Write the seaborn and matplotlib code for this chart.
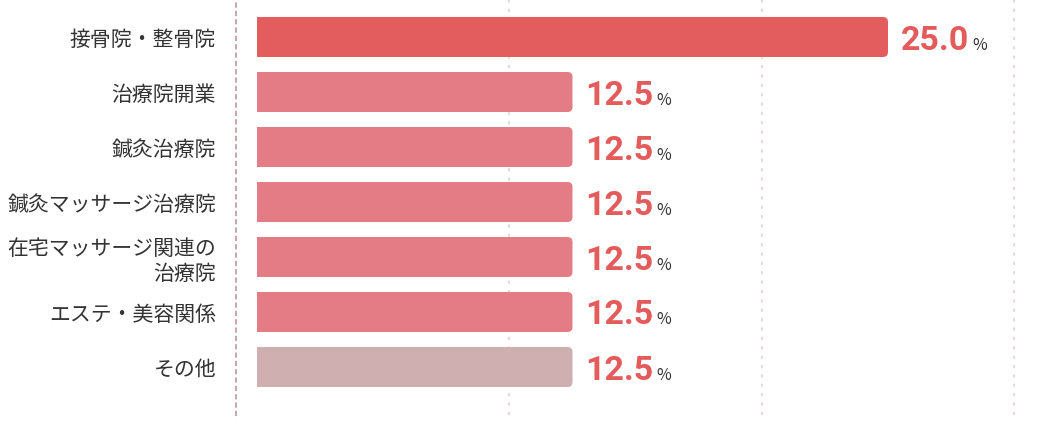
import matplotlib
matplotlib.use("Agg")
import matplotlib.pyplot as plt
import matplotlib.transforms as mtransforms
from matplotlib.patches import FancyBboxPatch, Rectangle
import seaborn as sns
import pandas as pd

categories = ["接骨院・整骨院", "治療院開業", "鍼灸治療院", "鍼灸マッサージ治療院",
              "在宅マッサージ関連の\n治療院", "エステ・美容関係", "その他"]
values = [25.0, 12.5, 12.5, 12.5, 12.5, 12.5, 12.5]
bar_colors = ["#e35d5e", "#e47c86", "#e47c86", "#e47c86", "#e47c86", "#e47c86", "#cfafb0"]
grid_ticks = [10, 20, 30]

sns.set_theme(style="white")
plt.rcParams['font.family'] = ['Noto Sans CJK JP', 'DejaVu Sans']

W, H = 1060, 424
fig = plt.figure(figsize=(W / 100, H / 100), dpi=100)
ax_left, ax_bottom_px, ax_h = 236, 9, 415
ax = fig.add_axes([ax_left / W, ax_bottom_px / H, (W - ax_left) / W, ax_h / H])

df = pd.DataFrame({"category": categories, "value": values})
sns.barplot(data=df, y="category", x="value", hue="category", palette=bar_colors,
            legend=False, width=40 / 55, ax=ax, saturation=1, orient="h")

k = 631 / 25.0  # px per percent
xmin = -21 / k
xmax = xmin + (W - ax_left) / k
ax.set_xlim(xmin, xmax)
ymin = -37 / 55
ymax = ymin + ax_h / 55
ax.set_ylim(ymax, ymin)

# rounded right corners
r_px = 5
rx = r_px / k
ry = r_px / 55
asp = ry / rx
for p in list(ax.patches):
    x0, y0, w, h = p.get_x(), p.get_y(), p.get_width(), p.get_height()
    fc = p.get_facecolor()
    p.remove()
    ax.add_patch(FancyBboxPatch((x0, y0), w, h,
                                boxstyle=f"round,pad=0,rounding_size={rx}",
                                mutation_aspect=asp, fc=fc, ec="none", zorder=2))
    ax.add_patch(Rectangle((x0, y0), 2 * rx, h, fc=fc, ec="none", zorder=2))

ax.set_xticks(grid_ticks)
ax.xaxis.grid(True, linestyle=(0, (1.5, 3)), color="#e3dadd", linewidth=1.5)
ax.yaxis.grid(False)
ax.set_axisbelow(True)
ax.tick_params(axis="x", length=0, labelbottom=False)
ax.tick_params(axis="y", length=0, pad=14.4, labelsize=15, labelcolor="#333333")
ax.set_xlabel("")
ax.set_ylabel("")
for s in ["top", "right", "bottom"]:
    ax.spines[s].set_visible(False)
ax.spines["left"].set_color("#c8a9ab")
ax.spines["left"].set_linewidth(1.5)
ax.spines["left"].set_linestyle((0, (1.5, 2.5)))

texts = []
for i, v in enumerate(values):
    t = ax.annotate(f"{v:.1f}", xy=(v, i), xytext=(13 * 0.72, -12.5 * 0.72),
                    textcoords="offset points", ha="left", va="baseline",
                    fontsize=24.5, color="#e35b5b", fontfamily="Roboto", fontweight="bold")
    texts.append(t)

fig.canvas.draw()
renderer = fig.canvas.get_renderer()
for i, (v, t) in enumerate(zip(values, texts)):
    bb = t.get_window_extent(renderer)
    ybase = ax.transData.transform((v, i))[1] - 12.5
    fig.text(bb.x1 + 3, ybase, "%", transform=mtransforms.IdentityTransform(),
             ha="left", va="baseline", fontsize=11.5, color="#333333",
             fontfamily="Noto Sans CJK JP")

fig.savefig("out.png", dpi=100)
